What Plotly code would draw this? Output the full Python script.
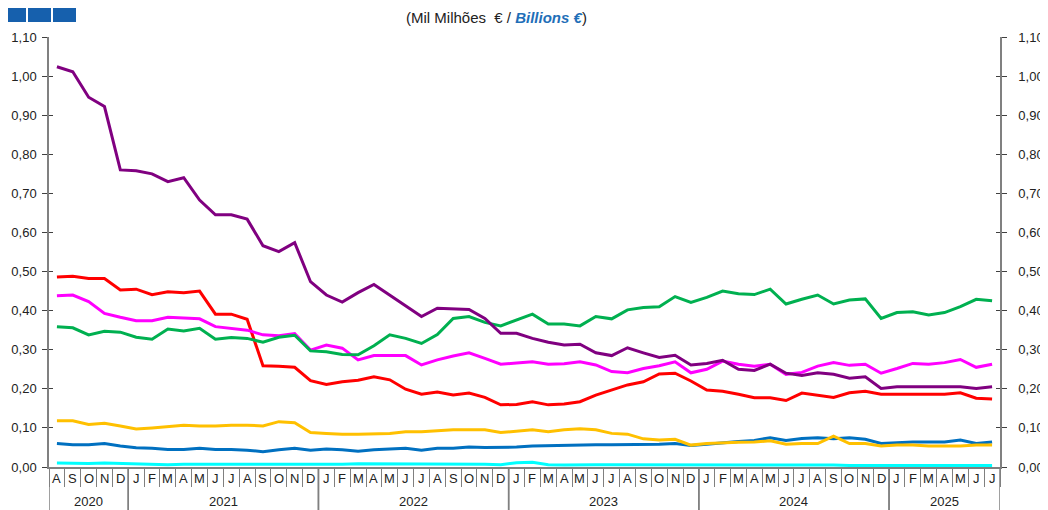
import plotly.graph_objects as go

# ---- data ----
years = ["2020"] * 5 + ["2021"] * 12 + ["2022"] * 12 + ["2023"] * 12 + ["2024"] * 12 + ["2025"] * 7
months = (["A", "S", "O", "N", "D"]
          + ["J", "F", "M", "A", "M", "J", "J", "A", "S", "O", "N", "D"] * 4
          + ["J", "F", "M", "A", "M", "J", "J"])

purple = [1.024, 1.011, 0.946, 0.922, 0.760, 0.758, 0.750, 0.730, 0.740, 0.683, 0.645, 0.645,
          0.634, 0.566, 0.551, 0.574, 0.474, 0.440, 0.422, 0.446, 0.467, 0.440, 0.414, 0.385,
          0.406, 0.405, 0.403, 0.380, 0.342, 0.342, 0.329, 0.319, 0.312, 0.314, 0.292, 0.285,
          0.305, 0.292, 0.280, 0.286, 0.261, 0.265, 0.273, 0.250, 0.247, 0.263, 0.240, 0.234,
          0.241, 0.237, 0.227, 0.231, 0.201, 0.205, 0.205, 0.204, 0.205, 0.205, 0.201, 0.205]
green = [0.359, 0.356, 0.338, 0.347, 0.345, 0.332, 0.327, 0.353, 0.348, 0.355, 0.327, 0.331,
         0.329, 0.319, 0.332, 0.337, 0.297, 0.295, 0.288, 0.287, 0.310, 0.338, 0.329, 0.316,
         0.339, 0.380, 0.385, 0.370, 0.361, 0.376, 0.391, 0.366, 0.366, 0.361, 0.385, 0.379,
         0.402, 0.408, 0.410, 0.436, 0.421, 0.434, 0.450, 0.443, 0.441, 0.455, 0.417, 0.429,
         0.440, 0.417, 0.427, 0.430, 0.380, 0.395, 0.397, 0.389, 0.395, 0.410, 0.429, 0.425]
magenta = [0.438, 0.440, 0.423, 0.393, 0.383, 0.374, 0.374, 0.383, 0.381, 0.379, 0.359, 0.355,
           0.350, 0.338, 0.336, 0.341, 0.299, 0.312, 0.304, 0.274, 0.285, 0.285, 0.285, 0.261,
           0.274, 0.284, 0.292, 0.278, 0.263, 0.266, 0.269, 0.263, 0.264, 0.269, 0.261, 0.244,
           0.241, 0.252, 0.259, 0.269, 0.241, 0.250, 0.271, 0.263, 0.258, 0.263, 0.237, 0.242,
           0.258, 0.267, 0.260, 0.263, 0.240, 0.252, 0.265, 0.263, 0.267, 0.275, 0.255, 0.263]
red = [0.486, 0.488, 0.482, 0.482, 0.453, 0.455, 0.441, 0.448, 0.446, 0.450, 0.391, 0.391,
       0.378, 0.259, 0.258, 0.255, 0.221, 0.211, 0.218, 0.222, 0.231, 0.223, 0.199, 0.186,
       0.192, 0.184, 0.189, 0.178, 0.159, 0.160, 0.167, 0.159, 0.161, 0.167, 0.184, 0.197,
       0.210, 0.218, 0.238, 0.240, 0.220, 0.197, 0.194, 0.186, 0.177, 0.177, 0.170, 0.189,
       0.184, 0.178, 0.190, 0.194, 0.186, 0.186, 0.186, 0.186, 0.186, 0.190, 0.176, 0.174]
yellow = [0.118, 0.118, 0.109, 0.112, 0.105, 0.097, 0.100, 0.103, 0.107, 0.105, 0.105, 0.107,
          0.107, 0.105, 0.116, 0.113, 0.088, 0.086, 0.084, 0.084, 0.085, 0.086, 0.090, 0.090,
          0.093, 0.095, 0.095, 0.095, 0.088, 0.091, 0.095, 0.090, 0.095, 0.098, 0.095, 0.086,
          0.084, 0.072, 0.069, 0.071, 0.056, 0.060, 0.062, 0.063, 0.064, 0.067, 0.058, 0.060,
          0.060, 0.079, 0.060, 0.060, 0.054, 0.056, 0.056, 0.054, 0.054, 0.054, 0.056, 0.056]
blue = [0.060, 0.057, 0.057, 0.060, 0.054, 0.049, 0.048, 0.045, 0.045, 0.048, 0.045, 0.045,
        0.043, 0.039, 0.044, 0.048, 0.043, 0.046, 0.044, 0.040, 0.044, 0.046, 0.048, 0.043,
        0.048, 0.048, 0.051, 0.050, 0.051, 0.051, 0.054, 0.055, 0.055, 0.057, 0.057, 0.057,
        0.057, 0.057, 0.058, 0.060, 0.055, 0.058, 0.062, 0.065, 0.068, 0.075, 0.068, 0.073,
        0.075, 0.072, 0.075, 0.071, 0.060, 0.062, 0.064, 0.064, 0.064, 0.069, 0.060, 0.064]
cyan = [0.010, 0.009, 0.009, 0.010, 0.009, 0.008, 0.007, 0.006, 0.007, 0.007, 0.007, 0.007,
        0.006, 0.007, 0.007, 0.006, 0.006, 0.007, 0.007, 0.008, 0.008, 0.008, 0.008, 0.008,
        0.008, 0.008, 0.008, 0.007, 0.006, 0.011, 0.012, 0.006, 0.005, 0.006, 0.006, 0.006,
        0.006, 0.006, 0.005, 0.005, 0.005, 0.005, 0.005, 0.005, 0.005, 0.005, 0.005, 0.005,
        0.005, 0.005, 0.004, 0.004, 0.004, 0.004, 0.004, 0.004, 0.004, 0.004, 0.004, 0.004]

series = [
    ("cyan", cyan, "#00FFFF"),
    ("blue", blue, "#0070C0"),
    ("yellow", yellow, "#FFC000"),
    ("red", red, "#FF0000"),
    ("magenta", magenta, "#FF00FF"),
    ("green", green, "#00B050"),
    ("purple", purple, "#800080"),
]

FONT = "Liberation Sans, Arial, sans-serif"
AX = "#808080"
OFF = 8                      # default page margin around the figure
W, H = 1048 - OFF, 510 - OFF
# plot area in page pixels: x 49..1000, y 37..467
ML, MR, MT, MB = 49 - OFF, 1048 - 1000, 37 - OFF, 510 - 467
PH = H - MT - MB
PW = W - ML - MR
N = len(months)
idx = list(range(N))


def py(pix):  # page pixel row -> paper y
    return (H - MB - (pix - OFF)) / PH


def px(pix):  # page pixel column -> paper x
    return (pix - OFF - ML) / PW


fig = go.Figure()
for name, vals, col in series:
    fig.add_trace(go.Scatter(x=idx, y=vals, mode="lines", name=name,
                             line=dict(color=col, width=3), showlegend=False))

yt = [i / 10 for i in range(12)]
common_y = dict(range=[0, 1.1], tickvals=yt, tickformat=".2f", showgrid=False, zeroline=False,
                showline=True, linecolor=AX, linewidth=1.5, ticks="outside", ticklen=5,
                tickcolor="#404040", automargin=False,
                tickfont=dict(family=FONT, size=13, color="#222"))

bounds = [i - 0.5 for i in range(N + 1)]

fig.update_layout(
    width=W, height=H,
    margin=dict(l=ML, r=MR, t=MT, b=MB),
    paper_bgcolor="white", plot_bgcolor="white",
    separators=", ",
    font=dict(family=FONT, size=13, color="#222"),
    xaxis=dict(range=[-0.5, N - 0.5], showgrid=False, zeroline=False, showline=True,
               linecolor=AX, linewidth=1.5, ticks="outside", ticklen=18, tickcolor=AX,
               tickwidth=1, tickvals=bounds, showticklabels=False, automargin=False),
    yaxis=dict(**common_y, ticklabelstandoff=3),
    yaxis2=dict(**common_y, overlaying="y", side="right", showticklabels=True,
                ticklabelstandoff=9),
    yaxis3=dict(range=[0, 1.1], tickvals=yt, overlaying="y", side="left", showline=False,
                showgrid=False, zeroline=False, ticks="inside", ticklen=4, tickcolor="#404040",
                showticklabels=False, automargin=False),
    yaxis4=dict(range=[0, 1.1], tickvals=yt, overlaying="y", side="right", showline=False,
                showgrid=False, zeroline=False, ticks="inside", ticklen=4, tickcolor="#404040",
                showticklabels=False, automargin=False),
)

for ax in ("y2", "y3", "y4"):
    fig.add_trace(go.Scatter(x=idx, y=purple, yaxis=ax, mode="lines", line=dict(width=0),
                             hoverinfo="skip", showlegend=False, opacity=0))

# month letters
for i, m in enumerate(months):
    fig.add_annotation(x=i, xref="x", y=py(478), yref="paper", text=m, showarrow=False,
                       font=dict(family=FONT, size=13, color="#222"),
                       xanchor="center", yanchor="middle")

# year labels and dividers
start = 0
groups = []
for i in range(1, N + 1):
    if i == N or years[i] != years[start]:
        groups.append((years[start], start, i - 1))
        start = i
for yr, a, b in groups:
    fig.add_annotation(x=(a + b) / 2, xref="x", y=py(502), yref="paper", text=yr,
                       showarrow=False, font=dict(family=FONT, size=13, color="#222"),
                       xanchor="center", yanchor="middle")
    for edge in (a - 0.5, b + 0.5):
        fig.add_shape(type="line", xref="x", yref="paper", x0=edge, x1=edge,
                      y0=0, y1=py(510), line=dict(color=AX, width=1.5))

# decorative blue squares top-left
for x0, x1 in ((3, 26), (28, 51), (53, 76)):
    fig.add_shape(type="rect", xref="paper", yref="paper",
                  x0=px(max(x0, OFF)), x1=px(x1),
                  y0=py(22), y1=py(7),
                  line=dict(width=0), fillcolor="#1660AD", layer="above")

fig.add_annotation(xref="paper", yref="paper", x=px(496), y=py(18),
                   text="(Mil Milhões  € / <b><i><span style='color:#1F6FB8'>Billions €</span></i></b>)",
                   showarrow=False, font=dict(family=FONT, size=15, color="#222"),
                   xanchor="center", yanchor="middle")

fig.write_html("out.html")
